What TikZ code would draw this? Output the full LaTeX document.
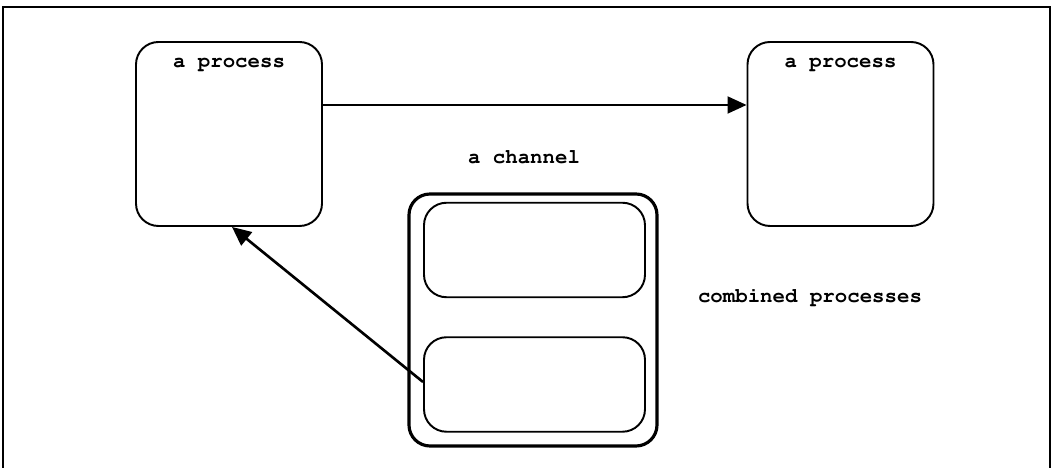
\documentclass[tikz,border=0pt]{standalone}
\usepackage[T1]{fontenc}
\usepackage{courier}
\usetikzlibrary{arrows.meta}
\begin{document}
\begin{tikzpicture}[>={Triangle[length=0.38cm,width=0.34cm]},
    proc/.style={draw,line width=1.1pt,rounded corners=0.45cm,minimum width=3.72cm,minimum height=3.68cm},
    part/.style={draw,line width=1.1pt,rounded corners=0.45cm,minimum width=4.42cm,minimum height=1.89cm},
    group/.style={draw,line width=1.8pt,rounded corners=0.42cm,minimum width=4.96cm,minimum height=5.04cm},
    txt/.style={font=\fontsize{11.8}{14}\selectfont\ttfamily\bfseries,inner sep=0pt}]
      \useasboundingbox (0,0) rectangle (21.06,9.36);
      \draw[line width=0.8pt] (0.06,0) -- (0.06,9.22) -- (21.0,9.22) -- (21.0,0);
      \draw (4.58,6.68) node[proc] (lp) {};
      \draw (16.81,6.68) node[proc] (rp) {};
      \draw (4.58,8.08) node[txt] (lpname) {a process};
      \draw (16.81,8.08) node[txt] (rpname) {a process};
      \draw (10.66,2.96) node[group] (comb) {};
      \draw (10.69,4.36) node[part] (upper) {};
      \draw (10.69,1.67) node[part] (lower) {};
      \draw (10.48,6.22) node[txt] (chname) {a channel};
      \draw (16.2,3.42) node[txt] (combname) {combined processes};
      \draw[->,line width=1.1pt] ([yshift=0.58cm]lp.east) -- ([yshift=0.58cm]rp.west);
      \draw[->,line width=1.5pt] ([yshift=0.05cm]lower.west) -- ([xshift=0.06cm]lp.south);
    \end{tikzpicture}
\end{document}
